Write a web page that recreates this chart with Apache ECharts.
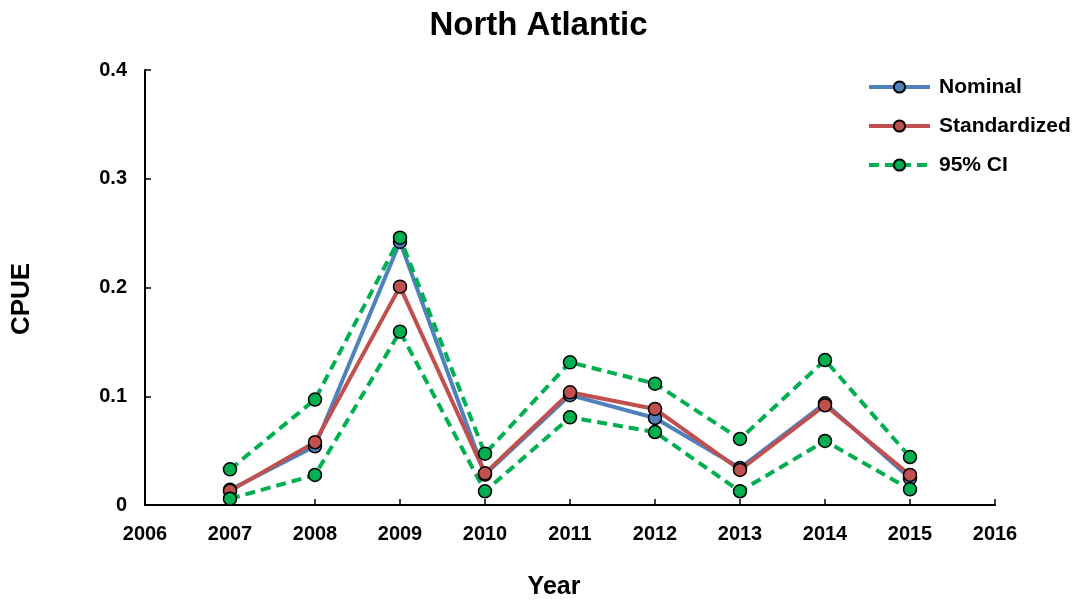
<!doctype html>
<html>
<head>
<meta charset="utf-8">
<title>North Atlantic</title>
<script src="https://cdn.jsdelivr.net/npm/echarts@6/dist/echarts.min.js"></script>
<style>
  html, body { margin: 0; padding: 0; background: #fff; }
  #chart { width: 1077px; height: 605px; }
</style>
</head>
<body>
<div id="chart"></div>
<script>
// values
var years = [2007, 2008, 2009, 2010, 2011, 2012, 2013, 2014, 2015];
var nominal = [0.014, 0.054, 0.242, 0.028, 0.101, 0.080, 0.034, 0.0935, 0.0245];
var standardized = [0.013, 0.0577, 0.2008, 0.0291, 0.1036, 0.0883, 0.0322, 0.0917, 0.0276];
var ciUpper = [0.0328, 0.097, 0.2458, 0.0472, 0.1312, 0.1116, 0.0607, 0.1333, 0.0441];
var ciLower = [0.0058, 0.0276, 0.1594, 0.0126, 0.0806, 0.0671, 0.0126, 0.0589, 0.0144];

var font = 'Liberation Sans, Arial, sans-serif';

function pairs(vals) {
    return years.map(function (y, i) { return [y, vals[i]]; });
}

function lineSeries(name, vals, color, dashed) {
    return {
        name: name,
        type: 'line',
        data: pairs(vals),
        symbol: 'circle',
        symbolSize: 13,
        showSymbol: true,
        lineStyle: { color: color, width: 4, type: dashed ? [10, 6] : 'solid' },
        itemStyle: { color: color, borderColor: '#000', borderWidth: 1.5 },
        emphasis: { disabled: true },
        animation: false
    };
}

var chart = echarts.init(document.getElementById('chart'));
chart.setOption({
    backgroundColor: '#fff',
    title: {
        text: 'North Atlantic',
        left: 'center',
        top: 4,
        textStyle: { fontFamily: font, fontSize: 33, fontWeight: 'bold', color: '#000' }
    },
    legend: {
        orient: 'vertical',
        left: 867,
        top: 75,
        padding: 0,
        itemWidth: 61,
        itemHeight: 14,
        itemGap: 15,
        lineStyle: { width: 4 },
        textStyle: { fontFamily: font, fontSize: 21, fontWeight: 'bold', color: '#000',
            lineHeight: 24, padding: [0, 0, 0, 4] },
        data: ['Nominal', 'Standardized', '95% CI']
    },
    grid: { left: 145, right: 82, top: 70, bottom: 100 },
    xAxis: {
        type: 'value',
        min: 2006,
        max: 2016,
        interval: 1,
        axisLine: { lineStyle: { color: '#000', width: 2 } },
        axisTick: { inside: true, length: 6, lineStyle: { color: '#000', width: 1.5 } },
        axisLabel: { fontFamily: font, fontSize: 20, fontWeight: 'bold', color: '#000', margin: 19,
            formatter: function (v) { return String(v); } },
        splitLine: { show: false }
    },
    yAxis: {
        type: 'value',
        min: 0,
        max: 0.4,
        interval: 0.1,
        axisLine: { show: true, lineStyle: { color: '#000', width: 2 } },
        axisTick: { show: true, inside: true, length: 6, lineStyle: { color: '#000', width: 1.5 } },
        axisLabel: { fontFamily: font, fontSize: 20, fontWeight: 'bold', color: '#000', margin: 18,
            formatter: function (v) { return v === 0 ? '0' : v.toFixed(1); } },
        splitLine: { show: false }
    },
    graphic: [
        {
            type: 'text',
            x: 22, y: 299,
            rotation: Math.PI / 2,
            style: { text: 'CPUE', fontFamily: font, fontSize: 26, fontWeight: 'bold', fill: '#000',
                align: 'center', verticalAlign: 'middle' }
        },
        {
            type: 'text',
            x: 554, y: 587,
            style: { text: 'Year', fontFamily: font, fontSize: 25, fontWeight: 'bold', fill: '#000',
                align: 'center', verticalAlign: 'middle' }
        }
    ],
    series: [
        lineSeries('Nominal', nominal, '#4F81BD', false),
        lineSeries('Standardized', standardized, '#C0504D', false),
        lineSeries('95% CI', ciUpper, '#00B050', true),
        lineSeries('95% CI', ciLower, '#00B050', true)
    ]
});
</script>
</body>
</html>
